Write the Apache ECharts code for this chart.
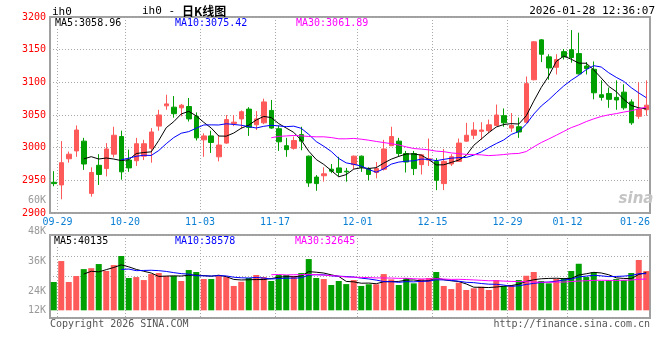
<!DOCTYPE html>
<html><head><meta charset="utf-8">
<script src="https://cdn.jsdelivr.net/npm/echarts@6/dist/echarts.min.js"></script>
<style>html,body{margin:0;padding:0;background:#fff}#c{width:660px;height:360px}</style>
</head><body><div id="c"></div>
<script>
// ---- data ----
const dates = ['09-29','09-30','10-09','10-10','10-13','10-14','10-15','10-16','10-17','10-20',
'10-21','10-22','10-23','10-24','10-27','10-28','10-29','10-30','10-31','11-03',
'11-04','11-05','11-06','11-07','11-10','11-11','11-12','11-13','11-14','11-17',
'11-18','11-19','11-20','11-21','11-24','11-25','11-26','11-27','11-28','12-01',
'12-02','12-03','12-04','12-05','12-08','12-09','12-10','12-11','12-12','12-15',
'12-16','12-17','12-18','12-19','12-22','12-23','12-24','12-25','12-26','12-29',
'12-30','12-31','01-05','01-06','01-07','01-08','01-09','01-12','01-13','01-14',
'01-15','01-16','01-19','01-20','01-21','01-22','01-23','01-26','01-27','01-28'];
const opens = [2947,2943,2983,2995,3010,2930,2973,2968,2990,3017,
2981,2980,2987,2999,3033,3064,3062,3061,3063,3048,
3012,3018,2986,3007,3037,3044,3059,3035,3038,3057,
3029,3003,2999,3020,2987,2955,2957,2967,2969,2964,
2974,2987,2968,2962,2967,3003,3010,2991,2991,2974,
2981,2979,2945,2975,2979,3010,3019,3025,3026,3034,
3049,3030,3032,3039,3104,3165,3139,3123,3147,3150,
3144,3125,3120,3081,3083,3077,3085,3070,3048,3058];
const closes = [2945,2977,2990,3027,2975,2962,2959,2998,3019,2963,
2969,3006,3006,3024,3050,3067,3052,3065,3044,3015,
3018,3008,3004,3043,3039,3055,3031,3044,3070,3030,
3009,2997,3011,3010,2946,2945,2960,2964,2962,2963,
2987,2970,2959,2968,2998,3017,2991,2978,2968,2989,
2983,2950,2979,2986,3007,3019,3027,3027,3035,3050,
3038,3034,3024,3098,3162,3143,3122,3135,3139,3138,
3113,3121,3084,3077,3074,3073,3061,3038,3059,3065];
const lows = [2941,2921,2977,2986,2966,2925,2943,2956,2985,2951,
2963,2972,2981,2977,3026,3058,3046,3048,3040,3011,
2986,2992,2979,3006,3033,3029,3018,3027,3036,3029,
2995,2986,2997,2996,2940,2934,2948,2961,2956,2948,
2967,2963,2950,2953,2965,3003,2986,2962,2958,2959,
2972,2935,2935,2972,2979,3009,3013,3012,3022,3033,
3032,3024,3015,3038,3103,3131,3104,3112,3135,3130,
3112,3112,3074,3072,3061,3058,3058,3035,3044,3049];
const highs = [2964,3010,2994,3034,3015,2970,2990,3007,3032,3026,
2997,3015,3012,3030,3058,3081,3079,3067,3076,3054,
3022,3026,3019,3050,3050,3057,3062,3056,3075,3073,
3034,3015,3017,3032,2988,2958,2970,2975,2986,2969,
2988,2988,2970,2978,3012,3032,3015,2995,2995,2990,
3014,2984,2998,2990,3014,3038,3039,3039,3043,3066,
3060,3053,3046,3109,3163,3166,3143,3143,3151,3180,
3176,3131,3132,3103,3092,3103,3097,3074,3100,3103];
const volumes = [30200,52600,30200,36600,44000,45000,49400,42000,48300,58000,
34500,35500,32300,38700,39800,36600,36600,31300,43000,40900,
33400,33400,36600,35500,26000,30500,34500,37700,35500,31300,
37700,37700,36600,39800,54700,34500,33400,27000,31300,28000,
32300,26000,27800,27800,38700,33000,27000,34500,28800,33400,
34500,40900,26000,22700,29500,21700,23500,25200,21700,32300,
26000,27000,32300,36900,40900,31300,28800,33400,34500,42000,
49700,35500,40900,31300,32300,33400,32300,39800,53700,41900];
const xTickLabels = ['09-29','10-20','11-03','11-17','12-01','12-15','12-29','01-12','01-26'];
const volTickLabels = ['60K','48K','36K','24K','12K'];
const priceLegend = ['MA5:3058.96','MA10:3075.42','MA30:3061.89'];
const volLegend = ['MA5:40135','MA10:38578','MA30:32645'];
const titleSymbol = 'ih0';
const titleText = '日K线图';
const timeStamp = '2026-01-28 12:36:07';

// ---- layout / style ----
const FONT = '"DejaVu Sans Mono", "Liberation Mono", monospace';
const UP = '#ff5a5a', DOWN = '#00a000';
const GRIDC = '#a8a8a8';
const tickSlots = [1,10,20,30,41,51,61,69,78];   // boundary slot for each tick label
const volLabelY = [200,231,261,291,310];

function ma(arr, n) {
  return arr.map((v, i) => {
    if (i < n - 1) return '-';
    let s = 0; for (let j = i - n + 1; j <= i; j++) s += arr[j];
    return +(s / n).toFixed(2);
  });
}
const kData = dates.map((d, i) => [opens[i], closes[i], lows[i], highs[i]]);
const volData = volumes.map((v, i) => ({ value: v, itemStyle: { color: closes[i] >= opens[i] ? UP : DOWN } }));
const boundary = new Array(dates.length + 1).fill('');
xTickLabels.forEach((t, j) => boundary[tickSlots[j]] = t);
const noLine = { '01-26': true };

const dotted = { color: GRIDC, width: 1, type: [1, 2] };
const chart = echarts.init(document.getElementById('c'));

const txt = (text, x, y, fill, opts) => Object.assign({
  type: 'text', x: x, y: y, silent: true, z: 100,
  style: Object.assign({ text: text, fill: fill, font: '10px ' + FONT, align: 'left', verticalAlign: 'middle' }, opts || {})
});

chart.setOption({
  animation: false,
  backgroundColor: '#fff',
  grid: [
    { left: 50, width: 600, top: 17, height: 196, show: true, borderColor: '#a0a0a0', borderWidth: 2, backgroundColor: 'transparent' },
    { left: 50, width: 600, top: 235, height: 83, show: true, borderColor: '#a0a0a0', borderWidth: 2, backgroundColor: 'transparent' }
  ],
  xAxis: [
    { type: 'category', gridIndex: 0, position: 'top', data: dates, boundaryGap: true, axisLine: { show: false }, axisTick: { show: false }, axisLabel: { show: false }, splitLine: { show: false } },
    { type: 'category', gridIndex: 1, position: 'top', data: dates, boundaryGap: true, axisLine: { show: false }, axisTick: { show: false }, axisLabel: { show: false }, splitLine: { show: false } },
    { type: 'category', gridIndex: 0, position: 'bottom', data: boundary, boundaryGap: false, axisLine: { show: false }, axisTick: { show: false },
      axisLabel: { show: true, interval: 0, color: '#0a7fd4', fontFamily: FONT, fontSize: 10, margin: 4 },
      splitLine: { show: true, interval: (i, v) => v !== '' && !noLine[v], lineStyle: dotted } },
    { type: 'category', gridIndex: 1, position: 'bottom', data: boundary, boundaryGap: false, axisLine: { show: false }, axisTick: { show: false },
      axisLabel: { show: false },
      splitLine: { show: true, interval: (i, v) => v !== '' && !noLine[v], lineStyle: dotted } }
  ],
  yAxis: [
    { type: 'value', gridIndex: 0, position: 'left', min: 2900, max: 3200, interval: 50, axisLine: { show: false }, axisTick: { show: false },
      axisLabel: { color: '#ff0000', fontFamily: FONT, fontSize: 10, margin: 4, formatter: v => String(v) }, splitLine: { show: true, lineStyle: dotted } },
    { type: 'value', gridIndex: 1, position: 'left', min: -8200, max: 80400, show: false },
    { type: 'value', gridIndex: 1, position: 'right', min: 0, max: 4, interval: 1, axisLine: { show: false }, axisTick: { show: false },
      axisLabel: { show: false }, splitLine: { show: true, lineStyle: dotted } }
  ],
  series: [
    { type: 'candlestick', xAxisIndex: 0, yAxisIndex: 0, data: kData, barWidth: 5,
      itemStyle: { color: UP, color0: DOWN, borderColor: UP, borderColor0: DOWN, borderWidth: 1 } },
    { type: 'line', xAxisIndex: 0, yAxisIndex: 0, data: ma(closes, 5), symbol: 'none', lineStyle: { width: 1, color: '#000' } },
    { type: 'line', xAxisIndex: 0, yAxisIndex: 0, data: ma(closes, 10), symbol: 'none', lineStyle: { width: 1, color: '#0000ff' } },
    { type: 'line', xAxisIndex: 0, yAxisIndex: 0, data: ma(closes, 30), symbol: 'none', lineStyle: { width: 1, color: '#ff00ff' } },
    { type: 'bar', xAxisIndex: 1, yAxisIndex: 1, data: volData, barWidth: 6 },
    { type: 'line', xAxisIndex: 1, yAxisIndex: 1, data: ma(volumes, 5), symbol: 'none', lineStyle: { width: 1, color: '#000' } },
    { type: 'line', xAxisIndex: 1, yAxisIndex: 1, data: ma(volumes, 10), symbol: 'none', lineStyle: { width: 1, color: '#0000ff' } },
    { type: 'line', xAxisIndex: 1, yAxisIndex: 1, data: ma(volumes, 30), symbol: 'none', lineStyle: { width: 1, color: '#ff00ff' } }
  ],
  graphic: [
    txt(titleSymbol, 52, 12, '#000', { font: '11px ' + FONT }),
    txt(titleSymbol + ' - ', 142, 11, '#000', { font: '11px ' + FONT }),
    txt(titleText, 182, 11, '#000', { font: 'bold 12px "Noto Sans CJK SC"' }),
    txt(timeStamp, 655, 11, '#000', { align: 'right', font: '11px ' + FONT }),
    txt(priceLegend[0], 55, 23, '#000', { backgroundColor: '#fff' }),
    txt(priceLegend[1], 175, 23, '#0000ff', { backgroundColor: '#fff' }),
    txt(priceLegend[2], 296, 23, '#ff00ff', { backgroundColor: '#fff' }),
    txt(volLegend[0], 54, 241, '#000', { backgroundColor: '#fff' }),
    txt(volLegend[1], 175, 241, '#0000ff', { backgroundColor: '#fff' }),
    txt(volLegend[2], 295, 241, '#ff00ff', { backgroundColor: '#fff' }),
    ...volTickLabels.map((t, i) => txt(t, 46, volLabelY[i], '#999', { align: 'right' })),
    txt('Copyright 2026 SINA.COM', 50, 324, '#555'),
    txt('http://finance.sina.com.cn', 650, 324, '#555', { align: 'right' }),
    txt('sina', 636, 199, '#c4c4c4', { align: 'center', font: 'italic bold 15px "DejaVu Sans"' })
  ]
});
</script></body></html>
